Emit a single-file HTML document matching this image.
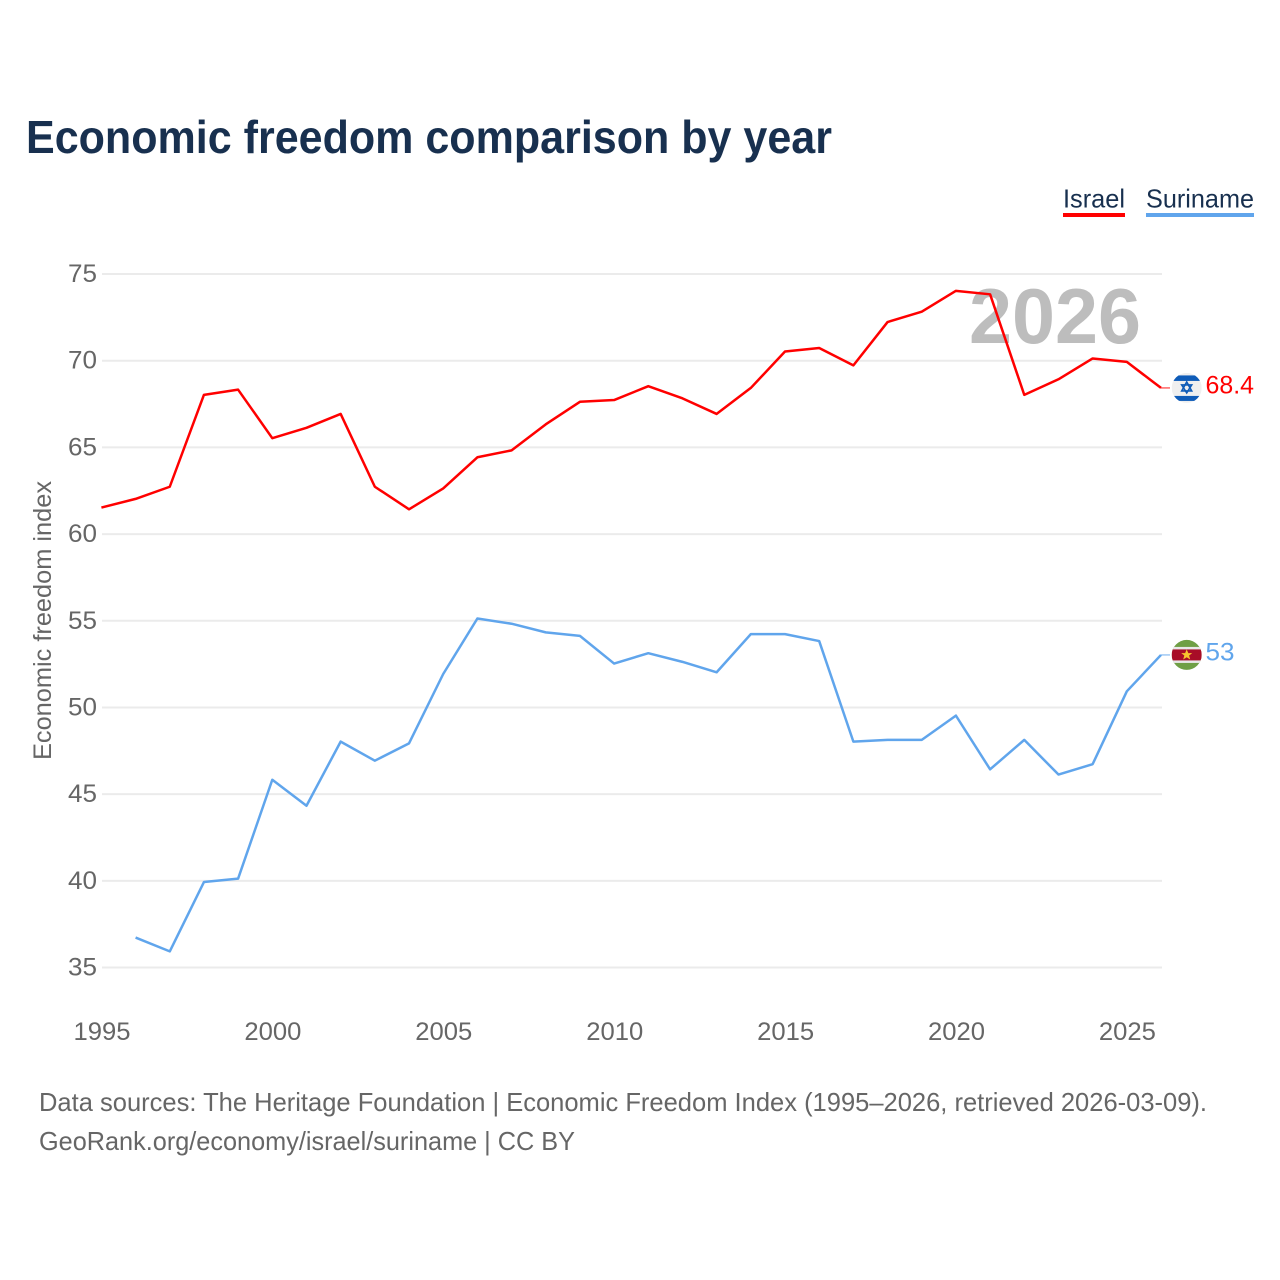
<!DOCTYPE html>
<html lang="en">
<head>
<meta charset="utf-8">
<title>Economic freedom comparison by year</title>
<style>
html,body{margin:0;padding:0;background:#fff;width:1280px;height:1280px;overflow:hidden}
svg{display:block}
text{font-family:"Liberation Sans",sans-serif}
</style>
</head>
<body>
<svg id="chart" xmlns="http://www.w3.org/2000/svg" width="1280" height="1280" viewBox="0 0 1280 1280">
  <defs>
    <clipPath id="flag-clip"><circle cx="0" cy="0" r="15"></circle></clipPath>
  </defs>
  <rect x="0" y="0" width="1280" height="1280" fill="#ffffff"></rect>
  <text x="26" y="153" font-size="46" font-weight="700" fill="#18304f" textLength="806" lengthAdjust="spacingAndGlyphs">Economic freedom comparison by year</text>

  <g>
    <g>
      <text x="1063" y="207.5" font-size="26" fill="#18304f" textLength="62" lengthAdjust="spacingAndGlyphs">Israel</text>
      <rect x="1063" y="213" width="62" height="4" fill="#ff0000"></rect>
    </g>
    <g>
      <text x="1146" y="207.5" font-size="26" fill="#18304f" textLength="108" lengthAdjust="spacingAndGlyphs">Suriname</text>
      <rect x="1146" y="213" width="108" height="4" fill="#60a5ec"></rect>
    </g>
  </g>

  <g id="grid"></g>
  <g id="y-ticks"></g>
  <g id="x-ticks"></g>

  <text transform="translate(51,620.5) rotate(-90)" text-anchor="middle" font-size="25" fill="#666666" textLength="279" lengthAdjust="spacingAndGlyphs">Economic freedom index</text>

  <text x="969" y="343" font-size="78" font-weight="700" fill="#bdbdbd" textLength="172" lengthAdjust="spacingAndGlyphs">2026</text>

  <g id="series"></g>
  <g id="ends"></g>

  <text x="39" y="1111" font-size="26" fill="#666666" textLength="1168" lengthAdjust="spacingAndGlyphs">Data sources: The Heritage Foundation | Economic Freedom Index (1995–2026, retrieved 2026-03-09).</text>
  <text x="39" y="1150" font-size="26" fill="#666666" textLength="536" lengthAdjust="spacingAndGlyphs">GeoRank.org/economy/israel/suriname | CC BY</text>
</svg>
<script>
var years = [1995,1996,1997,1998,1999,2000,2001,2002,2003,2004,2005,2006,2007,2008,2009,2010,2011,2012,2013,2014,2015,2016,2017,2018,2019,2020,2021,2022,2023,2024,2025,2026];
var israelValues = [61.5,62.0,62.7,68.0,68.3,65.5,66.1,66.9,62.7,61.4,62.6,64.4,64.8,66.3,67.6,67.7,68.5,67.8,66.9,68.4,70.5,70.7,69.7,72.2,72.8,74.0,73.8,68.0,68.9,70.1,69.9,68.4];
var surinameValues = [null,36.7,35.9,39.9,40.1,45.8,44.3,48.0,46.9,47.9,51.9,55.1,54.8,54.3,54.1,52.5,53.1,52.6,52.0,54.2,54.2,53.8,48.0,48.1,48.1,49.5,46.4,48.1,46.1,46.7,50.9,53.0];
var yTickValues = [35,40,45,50,55,60,65,70,75];
var xTickValues = [1995,2000,2005,2010,2015,2020,2025];

var NS = 'http://www.w3.org/2000/svg';
function xScale(year){ return 101.4 + (year - 1995) * (1161 - 101.4) / 31; }
function yScale(v){ return 967.5 - (v - 35) * (967.5 - 274) / 40; }
function lineY(v){ return yScale(v) - 0.5; }
function make(tag, attrs, parent){
  var el = document.createElementNS(NS, tag);
  for (var k in attrs) el.setAttribute(k, attrs[k]);
  parent.appendChild(el);
  return el;
}

var gridG = document.getElementById('grid');
var yG = document.getElementById('y-ticks');
yTickValues.forEach(function(v){
  var y = yScale(v);
  var line = make('line', {x1:102, x2:1162, y1:y, y2:y, stroke:'#ebebeb', 'stroke-width':2}, gridG);
  
  
  var t = make('text', {x:97, y:y + 8, 'text-anchor':'end', 'font-size':25, fill:'#666666', textLength:29, lengthAdjust:'spacingAndGlyphs'}, yG);
  
  
  t.textContent = String(v);
});

var xG = document.getElementById('x-ticks');
xTickValues.forEach(function(yr){
  var t = make('text', {x:xScale(yr) + 0.6, y:1040, 'text-anchor':'middle', 'font-size':25, fill:'#666666', textLength:57, lengthAdjust:'spacingAndGlyphs'}, xG);
  
  
  t.textContent = String(yr);
});

function linePath(values){
  var d = '';
  var started = false;
  values.forEach(function(v, i){
    if (v === null) return;
    d += (started ? 'L' : 'M') + xScale(years[i]).toFixed(2) + ' ' + lineY(v).toFixed(2);
    started = true;
  });
  return d;
}

var seriesG = document.getElementById('series');
var israelLine = make('path', {d:linePath(israelValues), fill:'none', stroke:'#ff0000', 'stroke-width':2.5, 'stroke-linejoin':'round'}, seriesG);


var surinameLine = make('path', {d:linePath(surinameValues), fill:'none', stroke:'#60a5ec', 'stroke-width':2.5, 'stroke-linejoin':'round'}, seriesG);



var endsG = document.getElementById('ends');
var FLAG_X = 1186.7;

// Israel end marker
var iLast = israelValues[israelValues.length - 1];
var iY = lineY(iLast);
var iStub = make('line', {x1:1161, x2:1170, y1:iY, y2:iY, stroke:'#ff0000', 'stroke-width':1.5, opacity:0.6}, endsG);


var iFlag = make('g', {transform:'translate(' + FLAG_X + ',' + iY + ')', 'clip-path':'url(#flag-clip)'}, endsG);


make('rect', {x:-15, y:-15, width:30, height:30, fill:'#efefef'}, iFlag);
make('rect', {x:-15, y:-12.5, width:30, height:5.5, fill:'#0f5cb8'}, iFlag);
make('rect', {x:-15, y:8, width:30, height:5, fill:'#0f5cb8'}, iFlag);
make('polygon', {points:'0,-6 5,3 -5,3', fill:'none', stroke:'#0f5cb8', 'stroke-width':1.6}, iFlag);
make('polygon', {points:'0,5 5,-3 -5,-3', fill:'none', stroke:'#0f5cb8', 'stroke-width':1.6}, iFlag);
var iLabel = make('text', {x:1205.5, y:iY + 5.5, 'font-size':25, fill:'#ff0000', textLength:48.5, lengthAdjust:'spacingAndGlyphs'}, endsG);


iLabel.textContent = String(iLast);

// Suriname end marker
var sLast = surinameValues[surinameValues.length - 1];
var sY = lineY(sLast);
var sStub = make('line', {x1:1161, x2:1170, y1:sY, y2:sY, stroke:'#60a5ec', 'stroke-width':1.5, opacity:0.6}, endsG);


var sFlag = make('g', {transform:'translate(' + FLAG_X + ',' + sY + ')', 'clip-path':'url(#flag-clip)'}, endsG);


make('rect', {x:-15, y:-16, width:30, height:32, fill:'#6f9f45'}, sFlag);
make('rect', {x:-15, y:-8, width:30, height:16, fill:'#e8e8e8'}, sFlag);
make('rect', {x:-15, y:-5.5, width:30, height:11, fill:'#a80d27'}, sFlag);
make('polygon', {points:'0,-5.5 1.6,-1.8 5.5,-1.8 2.4,0.6 3.5,4.6 0,2.3 -3.5,4.6 -2.4,0.6 -5.5,-1.8 -1.6,-1.8', fill:'#f7c52e'}, sFlag);
var sLabel = make('text', {x:1205.5, y:sY + 5.5, 'font-size':25, fill:'#60a5ec', textLength:29, lengthAdjust:'spacingAndGlyphs'}, endsG);


sLabel.textContent = String(sLast);
</script>
</body>
</html>
